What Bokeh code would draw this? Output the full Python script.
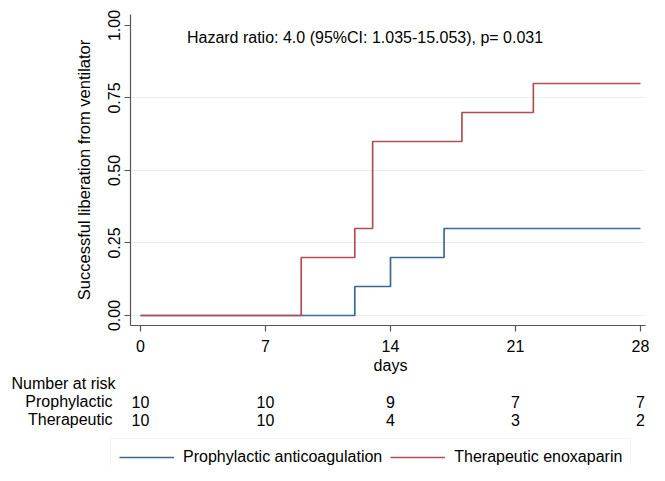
from bokeh.plotting import figure
from bokeh.layouts import column
from bokeh.models import Range1d, FixedTicker, NumeralTickFormatter, Label, Legend, LegendItem
from bokeh.embed import file_html
from bokeh.resources import INLINE

# ---- data ----
proph_days = [0, 12, 14, 17, 28]
proph_vals = [0.0, 0.1, 0.2, 0.3, 0.3]
thera_days = [0, 9, 12, 13, 18, 22, 28]
thera_vals = [0.0, 0.2, 0.3, 0.6, 0.7, 0.8, 0.8]

x_ticks = [0, 7, 14, 21, 28]
y_ticks = [0.0, 0.25, 0.5, 0.75, 1.0]

risk_days = [0, 7, 14, 21, 28]
risk_proph = [10, 10, 9, 7, 7]
risk_thera = [10, 10, 4, 3, 2]

group_names = ["Prophylactic", "Therapeutic"]
legend_labels = ["Prophylactic anticoagulation", "Therapeutic enoxaparin"]
hazard_text = "Hazard ratio: 4.0 (95%CI: 1.035-15.053), p= 0.031"
x_title = "days"
y_title = "Successful liberation from ventilator"
risk_title = "Number at risk"

FONT = "Liberation Sans"
FS = "16px"
BLUE = "#3a6894"
RED = "#b24d55"

W = 649
H1 = 358
H2 = 465 - H1
LEFT, RIGHT = 130, 4
X0, X1 = -0.56, 28.28

# ---------------- main plot ----------------
p = figure(width=W, height=H1,
           x_range=Range1d(X0, X1), y_range=Range1d(-0.0345, 1.0379),
           output_backend="svg", toolbar_location=None,
           min_border_left=LEFT, min_border_right=RIGHT,
           min_border_top=14, min_border_bottom=H1 - 325)
p.frame_align = False
p.outline_line_color = None
p.background_fill_color = "white"
p.border_fill_color = "white"

for ax in (p.xaxis[0], p.yaxis[0]):
    ax.axis_line_color = "#555555"
    ax.axis_line_width = 1.2
    ax.major_tick_line_color = "#555555"
    ax.major_tick_line_width = 1.2
    ax.major_tick_out = 6
    ax.major_tick_in = 0
    ax.minor_tick_line_color = None
    ax.major_label_text_font = FONT
    ax.major_label_text_font_size = FS
    ax.major_label_text_color = "black"
    ax.axis_label_text_font = FONT
    ax.axis_label_text_font_size = "16.5px"
    ax.axis_label_text_font_style = "normal"
    ax.axis_label_text_color = "black"

p.xaxis.ticker = FixedTicker(ticks=x_ticks)
p.xaxis.major_label_standoff = 8

p.yaxis.ticker = FixedTicker(ticks=y_ticks)
p.yaxis.formatter = NumeralTickFormatter(format="0.00")
p.yaxis.major_label_orientation = "parallel"
p.yaxis.axis_label = y_title
p.yaxis.major_label_standoff = 4
p.yaxis.axis_label_standoff = 13

p.xgrid.grid_line_color = None
p.ygrid.ticker = FixedTicker(ticks=y_ticks[:-1])
p.ygrid.grid_line_color = "#e6eff3"
p.ygrid.grid_line_width = 1.2

p.step(proph_days, proph_vals, mode="after", line_color=BLUE, line_width=1.7)
p.step(thera_days, thera_vals, mode="after", line_color=RED, line_width=1.7)

p.add_layout(Label(x=2.6, y=0.9586, text=hazard_text, text_font=FONT,
                   text_font_size=FS, text_baseline="middle", text_align="left",
                   text_color="black"))

# ---------------- number-at-risk table + legend ----------------
px_per_day = (W - LEFT - RIGHT) / (X1 - X0)
day0_px = LEFT + (0 - X0) * px_per_day

def px_to_day(px):
    return (px - day0_px) / px_per_day

q = figure(width=W, height=H2,
           x_range=Range1d(px_to_day(0), px_to_day(W)), y_range=Range1d(H2, 0),
           output_backend="svg", toolbar_location=None,
           x_axis_location=None, y_axis_location=None,
           min_border_left=0, min_border_right=0, min_border_top=0, min_border_bottom=0)
q.frame_align = False
q.outline_line_color = None
q.xgrid.grid_line_color = None
q.ygrid.grid_line_color = None
q.background_fill_color = "white"
q.border_fill_color = "white"

def lab(x, y, t, align):
    q.add_layout(Label(x=x, y=y, text=t, text_font=FONT, text_font_size=FS,
                       text_baseline="middle", text_align=align, text_color="black"))

lab(14, 7, x_title, "center")
lab(px_to_day(11), 25, risk_title, "left")
for name, yy, vals in zip(group_names, [43, 61], [risk_proph, risk_thera]):
    lab(px_to_day(112), yy, name, "right")
    for d, v in zip(risk_days, vals):
        lab(d, yy, str(v), "center")

# legend glyph renderers (series drawn on a range far out of view)
q.extra_y_ranges = {"hidden": Range1d(50, 51)}
g1 = q.line(proph_days, proph_vals, line_color=BLUE, line_width=1.7, y_range_name="hidden")
g2 = q.line(thera_days, thera_vals, line_color=RED, line_width=1.7, y_range_name="hidden")
legend = Legend(items=[LegendItem(label=legend_labels[0], renderers=[g1]),
                       LegendItem(label=legend_labels[1], renderers=[g2])],
                orientation="horizontal", location=(110, -11),
                padding=8, spacing=8, glyph_width=55, glyph_height=20,
                label_standoff=9, label_text_font=FONT, label_text_font_size=FS,
                label_text_color="black", border_line_color="#e3eaee",
                border_line_width=1.2, background_fill_color="white",
                background_fill_alpha=1.0, margin=0)
q.add_layout(legend, "center")

open("out.html", "w").write(file_html(column(p, q, spacing=0), INLINE))
